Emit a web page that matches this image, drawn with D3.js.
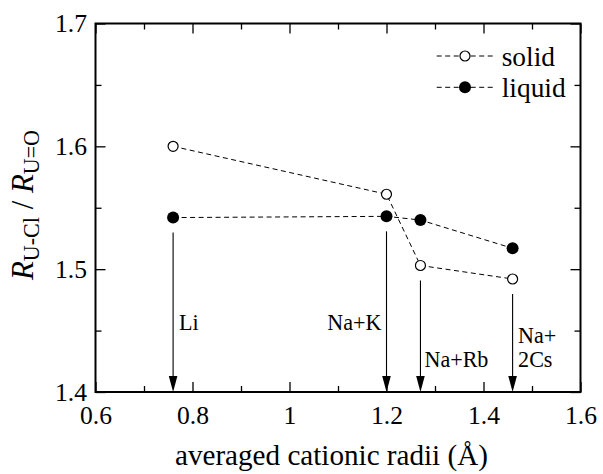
<!DOCTYPE html>
<meta charset="utf-8">
<style>body { margin: 0; background: #fff; }</style>
<svg width="603" height="474"></svg>
<script src="https://cdn.jsdelivr.net/npm/d3@7"></script>
<script>
// data
var radii = [0.76, 1.20, 1.27, 1.46];
var solid = [1.600, 1.561, 1.503, 1.492];
var liquid = [1.542, 1.543, 1.540, 1.517];
var saltLabels = [["Li"], ["Na+K"], ["Na+Rb"], ["Na+", "2Cs"]];
var xMajor = [0.6, 0.8, 1.0, 1.2, 1.4, 1.6];
var xMajorLabels = ["0.6", "0.8", "1", "1.2", "1.4", "1.6"];
var xMinor = [0.7, 0.9, 1.1, 1.3, 1.5];
var yMajor = [1.4, 1.5, 1.6, 1.7];
var yMajorLabels = ["1.4", "1.5", "1.6", "1.7"];
var yMinor = [1.45, 1.55, 1.65];

var FONT = "Liberation Serif";

var svg = d3.select("svg"),
    margin = {top: 23.5, right: 22.5, bottom: 82, left: 95.5},
    width = +svg.attr("width") - margin.left - margin.right,
    height = +svg.attr("height") - margin.top - margin.bottom;

var x = d3.scaleLinear().domain([0.6, 1.6]).range([0, width]),
    y = d3.scaleLinear().domain([1.4, 1.7]).range([height, 0]);

var g = svg.append("g")
    .attr("transform", "translate(" + margin.left + "," + margin.top + ")");

function label(sel, size) {
  return sel.attr("font-family", FONT).style("font-family", FONT)
            .attr("font-size", size).attr("fill", "#000");
}
// font size that makes a sample text as wide as in the reference
function fitSize(sample, size, target) {
  var t = label(svg.append("text"), size).text(sample);
  var w = t.node().getComputedTextLength();
  t.remove();
  return w ? size * target / w : size;
}
var tickSize = fitSize("1.4", 26, 32);
var saltSize = fitSize("Na+Rb", 22, 64);
var legendSize = fitSize("liquid", 27, 64);
var titleSize = fitSize("averaged cationic radii (\u00c5)", 27, 313);

// axes, ticks pointing inward on all four sides
function fmt(vals, labels) { return function(d) { return labels[vals.indexOf(d)]; }; }

function ax(axis, tr) {
  var a = g.append("g");
  if (tr) a.attr("transform", tr);
  a.call(axis);
  a.attr("font-family", null).attr("font-size", null);
  a.select(".domain").remove();
  a.selectAll("line").attr("stroke", "#000").attr("stroke-width", 1.3);
  label(a.selectAll("text"), tickSize);
  return a;
}

ax(d3.axisBottom(x).tickValues(xMajor).tickSize(-10).tickPadding(32 - 0.71 * tickSize).tickFormat(fmt(xMajor, xMajorLabels)), "translate(0," + height + ")");
ax(d3.axisBottom(x).tickValues(xMinor).tickSize(-6).tickFormat(""), "translate(0," + height + ")");
ax(d3.axisTop(x).tickValues(xMajor).tickSize(-10).tickFormat(""));
ax(d3.axisTop(x).tickValues(xMinor).tickSize(-6).tickFormat(""));
ax(d3.axisLeft(y).tickValues(yMajor).tickSize(-10).tickPadding(8.5).tickFormat(fmt(yMajor, yMajorLabels)));
ax(d3.axisLeft(y).tickValues(yMinor).tickSize(-6).tickFormat(""));
ax(d3.axisRight(y).tickValues(yMajor).tickSize(-10).tickFormat(""), "translate(" + width + ",0)");
ax(d3.axisRight(y).tickValues(yMinor).tickSize(-6).tickFormat(""), "translate(" + width + ",0)");

g.append("rect")
    .attr("width", width).attr("height", height)
    .attr("fill", "none").attr("stroke", "#000").attr("stroke-width", 2);

// arrows marking each salt composition
var arrows = g.append("g");
radii.forEach(function(r, i) {
  var px = x(r);
  var top = Math.max(y(solid[i]), y(liquid[i])) + 15;
  var base = y(1.4);
  arrows.append("line")
      .attr("x1", px).attr("x2", px)
      .attr("y1", top).attr("y2", base - 10)
      .attr("stroke", "#000").attr("stroke-width", 1.1);
  arrows.append("path")
      .attr("d", "M" + (px - 4.3) + "," + (base - 16) + "L" + (px + 4.3) + "," + (base - 16) + "L" + px + "," + base + "Z")
      .attr("fill", "#000");
});

// salt labels
var labelPos = [
  {dx: 6, anchor: "start", y0: 306},
  {dx: -5, anchor: "end", y0: 306.7},
  {dx: 4, anchor: "start", y0: 343.5},
  {dx: 5.5, anchor: "start", y0: 319.5}
];
saltLabels.forEach(function(lines, i) {
  var t = label(g.append("text"), saltSize)
      .attr("x", x(radii[i]) + labelPos[i].dx)
      .attr("y", labelPos[i].y0)
      .attr("text-anchor", labelPos[i].anchor);
  lines.forEach(function(s, j) {
    t.append("tspan").attr("x", x(radii[i]) + labelPos[i].dx).attr("dy", j ? 24 : 0).text(s);
  });
});

// series
var line = d3.line().x(function(d) { return x(d[0]); }).y(function(d) { return y(d[1]); });
var solidPts = radii.map(function(r, i) { return [r, solid[i]]; });
var liquidPts = radii.map(function(r, i) { return [r, liquid[i]]; });

function dashed(sel) {
  return sel.attr("fill", "none").attr("stroke", "#000").attr("stroke-width", 1).attr("stroke-dasharray", "5,3.5");
}
dashed(g.append("path")).attr("d", line(solidPts));
dashed(g.append("path")).attr("d", line(liquidPts));

g.selectAll(".solid").data(solidPts).enter().append("circle")
    .attr("cx", function(d) { return x(d[0]); })
    .attr("cy", function(d) { return y(d[1]); })
    .attr("r", 5).attr("fill", "#fff").attr("stroke", "#000").attr("stroke-width", 1.2);
g.selectAll(".liquid").data(liquidPts).enter().append("circle")
    .attr("cx", function(d) { return x(d[0]); })
    .attr("cy", function(d) { return y(d[1]); })
    .attr("r", 6).attr("fill", "#000");

// legend
var legend = svg.append("g").attr("transform", "translate(436.7,56)");
["solid", "liquid"].forEach(function(name, i) {
  var row = legend.append("g").attr("transform", "translate(0," + (i * 31.3) + ")");
  dashed(row.append("line")).attr("x1", 0).attr("x2", 58);
  if (i === 0) {
    row.append("circle").attr("cx", 28.3).attr("r", 5).attr("fill", "#fff").attr("stroke", "#000").attr("stroke-width", 1.2);
  } else {
    row.append("circle").attr("cx", 28.3).attr("r", 6).attr("fill", "#000");
  }
  label(row.append("text"), legendSize).attr("x", 65).attr("y", 10).text(name);
});

// axis titles
label(svg.append("text"), titleSize)
    .attr("x", 175).attr("y", 465)
    .text("averaged cationic radii (\u00c5)");

var yt = label(svg.append("text"), 28)
    .attr("transform", "translate(33,205) rotate(-90)")
    .attr("text-anchor", "middle");
yt.append("tspan").attr("font-style", "italic").text("R");
yt.append("tspan").attr("class", "sub").attr("dy", 5).attr("font-size", 20).text("U-Cl");
yt.append("tspan").attr("class", "sup").attr("dy", -5).text(" / ");
yt.append("tspan").attr("font-style", "italic").text("R");
yt.append("tspan").attr("class", "sub").attr("dy", 5).attr("font-size", 20).text("U=O");
// scale the y title so it spans the same length as in the reference
var k = 150 / yt.node().getComputedTextLength();
yt.attr("font-size", 28 * k);
yt.selectAll(".sub").attr("font-size", 20 * k).attr("dy", 5 * k);
yt.selectAll(".sup").attr("dy", -5 * k);
</script>
